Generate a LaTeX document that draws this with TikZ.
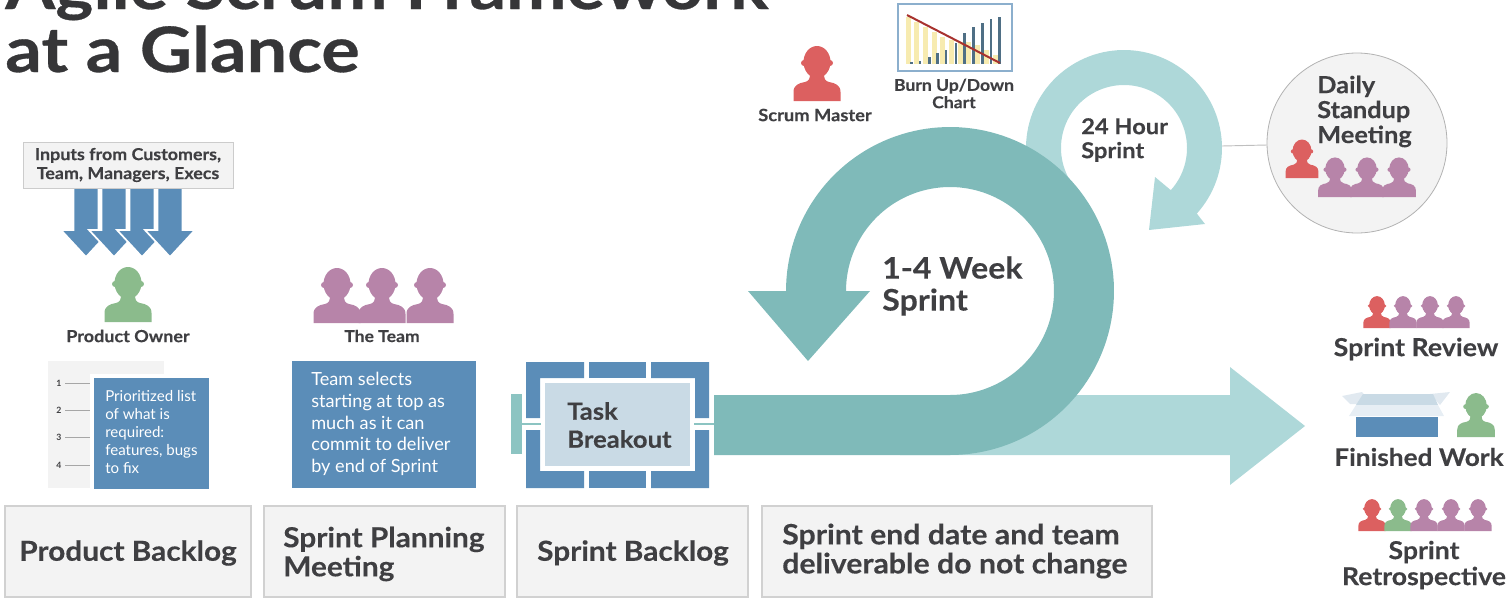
\documentclass[tikz,border=0pt]{standalone}
\usepackage{fontspec}
\setmainfont{Lato}
\newfontfamily\hv[FakeStretch=1.08,FakeBold=.25]{Lato}
\newfontfamily\ttl[FakeStretch=1.15,FakeBold=.5]{Lato}
\definecolor{ink}{HTML}{3F3F42}
\definecolor{blu}{HTML}{5B8DB8}
\definecolor{darkteal}{HTML}{7FBAB9}
\definecolor{liteteal}{HTML}{AED8D9}
\definecolor{midteal}{HTML}{8CC4C2}
\definecolor{paleblu}{HTML}{C9DAE5}
\definecolor{greybox}{HTML}{F3F3F3}
\definecolor{redp}{HTML}{DC6060}
\definecolor{greenp}{HTML}{8BBB8C}
\definecolor{purp}{HTML}{B784A9}
\definecolor{yelbar}{HTML}{F7EBB0}
\definecolor{darkbar}{HTML}{4F6F85}
\definecolor{burnline}{HTML}{A8322E}
\newcommand{\fsb}[2]{\fontsize{#1}{#2}\selectfont}
\tikzset{
  lbl/.style 2 args={inner sep=0pt,text=ink,font=\hv\bfseries\fsb{#1}{#2},align=center},
  lbll/.style 2 args={inner sep=0pt,text=ink,font=\hv\bfseries\fsb{#1}{#2},align=left},
  wtxt/.style 2 args={inner sep=0pt,text=white,font=\fsb{#1}{#2},align=left,anchor=west},
  titletxt/.style={inner sep=0pt,anchor=base west,text=ink!85!black,font=\ttl\bfseries\fsb{47}{52}},
  footbox/.style={fill=greybox,draw=black!18,line width=.8pt},
  bluebox/.style={fill=blu},
  downarrow/.style={fill=blu,draw=white,line width=1.3pt,line join=miter}
}
\newcommand{\pers}[4]{%
 \begin{scope}[shift={(#1,#2)},scale=#3]
  \fill[#4] (0,-39) ellipse [x radius=13.5,y radius=16];
  \fill[#4] (-13,-38) circle [radius=3] (13,-38) circle [radius=3];
  \fill[#4] (-23.5,0) -- (-23.5,-9) .. controls (-23.5,-16) and (-18,-18) .. (-12,-19)
     .. controls (-8,-20) and (-7,-22) .. (-7,-28) -- (7,-28)
     .. controls (7,-22) and (8,-20) .. (12,-19)
     .. controls (18,-18) and (23.5,-16) .. (23.5,-9) -- (23.5,0) -- cycle;
 \end{scope}}
\newcommand{\downarr}[1]{%
 \begin{scope}[shift={(#1,0)}]
  \draw[downarrow] (-12.5,180) -- (12.5,180) -- (12.5,230) -- (25,230) -- (0,257) -- (-25,230) -- (-12.5,230) -- cycle;
 \end{scope}}
\begin{document}
\begin{tikzpicture}[x=.75pt,y=-.75pt]
\useasboundingbox (0,0) rectangle (1511,597);
\clip (0,0) rectangle (1511,597);
% Title
\node[titletxt] (title1) at (5,9) {Agile Scrum Framework};
\node[titletxt] (title2) at (5,72) {at a Glance};
% Inputs
\downarr{86}\downarr{114}\downarr{142}\downarr{170}
\node[fill=greybox,draw=black!20,line width=.7pt,minimum width=157.5pt,minimum height=34.5pt,inner sep=0pt,text=ink,font=\hv\bfseries\fsb{12.4}{14.2},align=center] (inputs) at (128,165) {Inputs from Customers,\\Team, Managers, Execs};
\pers{128}{322}{1}{greenp}
\node[lbl={12.5}{14}] (po) at (128,336) {Product Owner};
% Product backlog list
\fill[greybox] (48,361) rectangle (164,488);
\fill[white] (90,374) rectangle (212,492);
\foreach \n/\yy in {1/383,2/410,3/437,4/465}{
  \node[inner sep=0pt,text=ink,font=\bfseries\fsb{6.5}{8}] (num\n) at (59,\yy) {\n};
  \coordinate (ls\n) at (65,\yy); \coordinate (le\n) at (90,\yy);
  \draw[black!35,line width=.5pt] (ls\n) -- (le\n);
}
\fill[bluebox] (94,378) rectangle (209,489);
\node[wtxt={11.3}{13.6}] (pb) at (105,432) {Prioritized list\\of what is\\required:\\features, bugs\\to fix};
% Team
\pers{337}{323}{1}{purp}\pers{382}{323}{1}{purp}\pers{430}{323}{1}{purp}
\node[lbl={12.2}{14}] (team) at (382,336) {The Team};
\fill[bluebox] (292,361) rectangle (476,488);
\node[wtxt={13.6}{16.3}] (tsel) at (311,424) {Team selects\\starting at top as\\much as it can\\commit to deliver\\by end of Sprint};
% Big flow: light arrow, small ring, big ring
\fill[liteteal] (900,395) -- (1230,395) -- (1230,367) -- (1305,426) -- (1230,485) -- (1230,455) -- (900,455) -- cycle;
\fill[liteteal] plot[domain=150:402,samples=90] ({1124+98*cos(\x)},{148+98*sin(\x)})
   -- (1205,224) -- (1149,230) -- (1155,177)
   -- plot[domain=402:150,samples=90] ({1124+63*cos(\x)},{148+63*sin(\x)}) -- cycle;
\fill[darkteal] (714,395) -- (950,395)
   -- plot[domain=90:-180,samples=120] ({950+104*cos(\x)},{291+104*sin(\x)})
   -- (870,291) -- (808,361) -- (748,291) -- (786,291)
   -- plot[domain=-180:90,samples=120] ({950+164*cos(\x)},{291+164*sin(\x)})
   -- (714,455) -- cycle;
% Task breakout
\fill[midteal] (511,394) rectangle (522,454);
\fill[midteal] (522,423) rectangle (541,425);
\fill[midteal] (694,423) rectangle (714,425);
\fill[bluebox] (526,362) -- (584,362) -- (584,378) -- (540,378) -- (540,418) -- (526,418) -- cycle;
\fill[bluebox] (526,430) -- (540,430) -- (540,471) -- (584,471) -- (584,488) -- (526,488) -- cycle;
\fill[bluebox] (589,362) rectangle (646,378);
\fill[bluebox] (589,471) rectangle (646,488);
\fill[bluebox] (651,362) -- (709,362) -- (709,418) -- (695,418) -- (695,378) -- (651,378) -- cycle;
\fill[bluebox] (709,430) -- (695,430) -- (695,471) -- (651,471) -- (651,488) -- (709,488) -- cycle;
\fill[paleblu] (545,383) rectangle (690,466);
\node[lbll={17.8}{21},anchor=west] (tb) at (567,425) {Task\\Breakout};
% Footer boxes
\draw[footbox] (5,506) rectangle (251,597);
\draw[footbox] (264,506) rectangle (505,597);
\draw[footbox] (517,506) rectangle (748,597);
\draw[footbox] (762,506) rectangle (1152,597);
\node[lbl={20.7}{24}] (f1) at (128,553) {Product Backlog};
\node[lbll={20.7}{21.8},anchor=west] (f2) at (283,554) {Sprint Planning\\Meeting};
\node[lbl={20.7}{24}] (f3) at (633,553) {Sprint Backlog};
\node[lbll={21}{21.8},anchor=west] (f4) at (782,551) {Sprint end date and team\\deliverable do not change};
% Ring labels
\node[lbll={22.3}{24},anchor=west] (wk) at (882,286) {1-4 Week\\Sprint};
\node[lbll={16.4}{18},anchor=west] (hr) at (1081,140) {24 Hour\\Sprint};
% Scrum master
\pers{817}{101}{1}{redp}
\node[lbl={12.7}{14}] (sm) at (815,115) {Scrum Master};
% Burn chart
\draw[draw=blu!70,fill=white,line width=.8pt] (898,4) rectangle (1012,71);
\foreach \xx/\tt in {475/50,500/65,527/80,553/95,578/110,605/120,630/125,655/125,683/135,708/150,735/165}{
  \fill[yelbar] ({750+\xx/3-2.5},{\tt/3}) rectangle ({750+\xx/3+2.5},64);
}
\foreach \xx/\tt in {485/185,510/182,538/172,563/160,588/150,618/130,643/100,670/80,698/70,723/58,748/50}{
  \fill[darkbar] ({750+\xx/3-1.4},{\tt/3}) rectangle ({750+\xx/3+1.4},64);
}
\draw[burnline,line width=1.5pt] (907,15) -- (1000,63);
\node[lbl={12.2}{13},anchor=center] (bu) at (954,93.5) {Burn Up/Down\\Chart};
% Daily standup
\node[circle,draw=black!30,fill=greybox,line width=.6pt,minimum size=135pt,inner sep=0pt] (standup) at (1357,143) {};
\coordinate (ringedge) at (1222,146);
\draw[black!25,line width=.7pt] (ringedge) -- (standup);
\node[lbll={17.6}{18.7},anchor=west] (ds) at (1317,111.5) {Daily\\Standup\\Meeting};
\pers{1302}{178}{.7}{redp}
\pers{1335}{197}{.72}{purp}\pers{1367}{197}{.72}{purp}\pers{1399}{197}{.72}{purp}
% Right column
\pers{1377}{328}{.58}{redp}\pers{1403}{328}{.58}{purp}\pers{1430}{328}{.58}{purp}\pers{1456}{328}{.58}{purp}
\node[lbl={18.6}{20}] (sr) at (1416,349) {Sprint Review};
\fill[black!5!blu!18!white] (1342,396) -- (1362,392) -- (1372,404) -- (1350,404) -- cycle;
\fill[black!5!blu!18!white] (1450,392) -- (1430,394) -- (1440,405) -- cycle;
\fill[paleblu] (1363,394) -- (1433,394) -- (1438,405) -- (1356,405) -- cycle;
\fill[blu!15!white] (1356,405) -- (1438,405) -- (1444,416) -- (1349,416) -- cycle;
\fill[bluebox] (1356,417) rectangle (1438,437);
\pers{1476}{437}{.8}{greenp}
\node[lbl={18.2}{20}] (fw) at (1419,457) {Finished Work};
\pers{1372}{531}{.58}{redp}\pers{1398}{531}{.58}{greenp}\pers{1424}{531}{.58}{purp}\pers{1451}{531}{.58}{purp}\pers{1478}{531}{.58}{purp}
\node[lbl={18.5}{19.5}] (sre) at (1424,565) {Sprint\\Retrospective};
\end{tikzpicture}
\end{document}
